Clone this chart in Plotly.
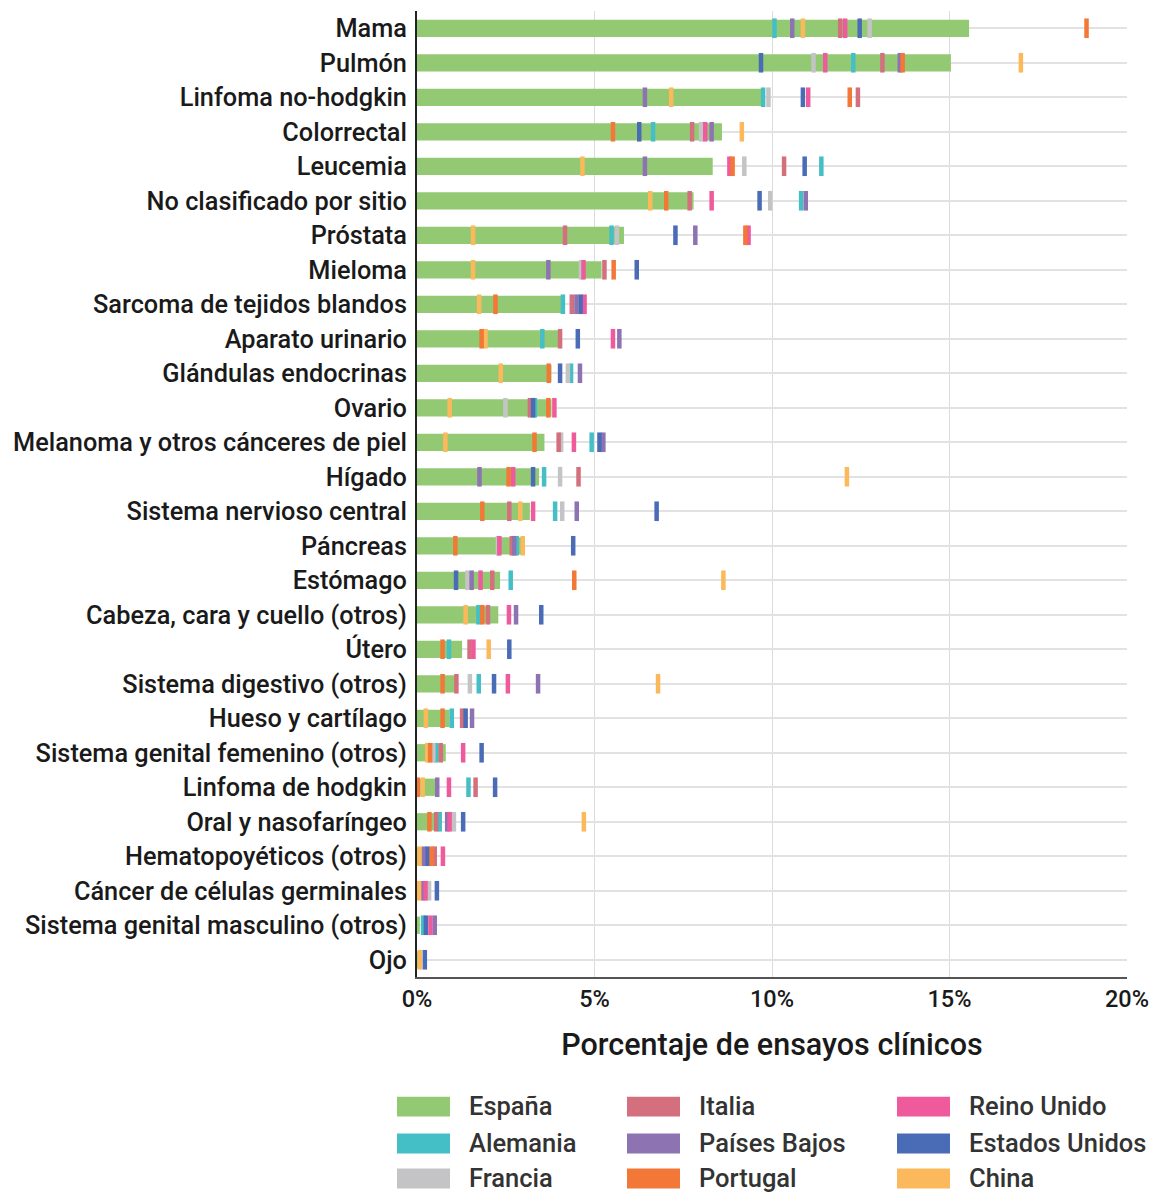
import plotly.graph_objects as go

# Tumour types, top to bottom
categorias = [
    "Mama", "Pulmón", "Linfoma no-hodgkin", "Colorrectal", "Leucemia",
    "No clasificado por sitio", "Próstata", "Mieloma", "Sarcoma de tejidos blandos",
    "Aparato urinario", "Glándulas endocrinas", "Ovario",
    "Melanoma y otros cánceres de piel", "Hígado", "Sistema nervioso central",
    "Páncreas", "Estómago", "Cabeza, cara y cuello (otros)", "Útero",
    "Sistema digestivo (otros)", "Hueso y cartílago",
    "Sistema genital femenino (otros)", "Linfoma de hodgkin",
    "Oral y nasofaríngeo", "Hematopoyéticos (otros)",
    "Cáncer de células germinales", "Sistema genital masculino (otros)", "Ojo",
]

# Share of clinical trials (%) per tumour type and country
espana = [15.55, 15.04, 9.74, 8.59, 8.33, 7.79, 5.83, 5.20, 4.10, 4.06, 3.79, 3.79,
          3.59, 3.44, 3.18, 2.94, 2.34, 2.29, 1.27, 1.08, 0.92, 0.81, 0.59, 0.52,
          0.42, 0.12, 0.08, 0.03]
alemania = [10.07, 12.29, 9.75, 6.65, 11.39, 10.82, 5.48, None, 4.11, 3.53, 4.34, 3.32,
            4.92, 3.58, 3.89, 2.81, 2.64, 1.73, 0.90, 1.74, 0.98, 0.54, 1.45, 0.64,
            None, None, 0.17, None]
francia = [12.75, 11.17, 9.90, 8.00, 9.22, 9.95, 5.63, 4.62, None, None, 4.25, 2.49,
           4.06, 4.03, 4.09, 2.28, 1.42, None, None, 1.49, None, 0.46, None, 1.04,
           None, 0.34, None, None]
italia = [11.92, 13.11, 12.42, 7.75, 10.34, 7.68, 4.17, 5.28, 4.36, 4.03, None, 3.18,
          3.99, 4.55, 2.60, 2.67, 2.12, 2.00, 1.48, 1.11, 1.27, 0.67, 1.65, 0.54,
          0.50, None, None, None]
paises_bajos = [10.57, 13.60, 6.42, 8.30, 6.42, 10.95, 7.84, 3.70, 4.49, 5.70, 4.59, None,
                5.25, 1.76, 4.50, 2.74, 1.54, 2.79, None, 3.41, 1.55, None, 0.57, 0.85,
                0.19, 0.17, 0.50, None]
portugal = [18.86, 13.68, 12.19, 5.52, 8.89, 7.02, 9.25, 5.54, 2.21, 1.82, 3.71, 3.70,
            3.31, 2.58, 1.84, 1.08, 4.43, 1.84, 0.72, 0.72, 0.72, 0.37, 0.02, 0.35,
            0.41, None, None, None]
reino_unido = [12.06, 11.50, 11.02, 8.12, 8.80, 8.30, 9.34, 4.69, 4.72, 5.52, None, 3.87,
               4.42, 2.71, 3.27, 2.32, 1.79, 2.59, 1.59, 2.56, None, 1.30, 0.90, 0.92,
               0.73, 0.24, 0.38, None]
estados_unidos = [12.47, 9.69, 10.87, 6.26, 10.92, 9.65, 7.28, 6.19, 4.61, 4.53, 4.03, 3.27,
                  5.14, 3.27, 6.75, 4.40, 1.10, 3.50, 2.60, 2.17, 1.37, 1.82, 2.20, 1.30,
                  0.30, 0.56, 0.25, 0.22]
china = [10.87, 17.01, 7.16, 9.15, 4.66, 6.57, 1.58, 1.58, 1.75, 1.93, 2.36, 0.92,
         0.80, 12.11, 2.91, 2.98, 8.63, 1.37, 2.02, 6.79, 0.25, 0.29, 0.16, 4.70,
         0.07, 0.06, None, 0.08]

x_ticks = [0, 5, 10, 15, 20]
x_tick_labels = ["0%", "5%", "10%", "15%", "20%"]

colores = {
    "España": "#93C973",
    "Alemania": "#45BFC6",
    "Francia": "#C4C4C6",
    "Italia": "#D4707E",
    "Países Bajos": "#8E73B3",
    "Portugal": "#F37736",
    "Reino Unido": "#EF5A9D",
    "Estados Unidos": "#4A6BB5",
    "China": "#FCB95B",
}

otros_paises = [
    ("Alemania", alemania), ("Francia", francia), ("Italia", italia),
    ("Países Bajos", paises_bajos), ("Reino Unido", reino_unido),
    ("Estados Unidos", estados_unidos), ("China", china), ("Portugal", portugal),
]

FONT = "Roboto"
WEIGHT = 500
W, H = 1153, 1193
L, R, T, B = 417, 1127, 10.7, 977.3

fig = go.Figure()

fig.add_trace(go.Bar(
    y=categorias, x=espana, orientation="h", name="España",
    marker=dict(color=colores["España"], line=dict(width=0)),
    width=0.5, showlegend=False,
))

for nombre, valores in otros_paises:
    fig.add_trace(go.Scatter(
        y=categorias, x=valores, mode="markers", name=nombre,
        marker=dict(symbol="line-ns", size=14,
                    line=dict(width=4.5, color=colores[nombre])),
        showlegend=False, cliponaxis=False,
    ))

# Legend drawn as swatches + labels in three columns
def px_x(p):
    return (p - L) / (R - L)

def px_y(p):
    return (B - p) / (B - T)

columnas = [
    (397, ["España", "Alemania", "Francia"]),
    (627, ["Italia", "Países Bajos", "Portugal"]),
    (897, ["Reino Unido", "Estados Unidos", "China"]),
]
filas = [1106, 1143, 1178]
shapes = []
annotations = []
for x0, nombres in columnas:
    for yc, nombre in zip(filas, nombres):
        shapes.append(dict(
            type="rect", xref="paper", yref="paper",
            x0=px_x(x0), x1=px_x(x0 + 53), y0=px_y(yc + 11), y1=px_y(yc - 9),
            fillcolor=colores[nombre], line=dict(width=0), layer="above",
        ))
        annotations.append(dict(
            xref="paper", yref="paper", x=px_x(x0 + 70), y=px_y(yc),
            text=nombre, showarrow=False, xanchor="left", yanchor="middle",
            font=dict(family=FONT, size=25.5, color="#333333", weight=WEIGHT),
        ))

fig.update_layout(
    width=W, height=H,
    margin=dict(l=L, r=W - R, t=T, b=H - B, pad=0, autoexpand=False),
    paper_bgcolor="white", plot_bgcolor="white",
    shapes=shapes, annotations=annotations,
    font=dict(family=FONT, color="#1a1a1a", weight=WEIGHT),
)

fig.update_xaxes(
    range=[0, 20], tickvals=x_ticks, ticktext=x_tick_labels,
    showgrid=True, gridcolor="#dcdcdc", gridwidth=1,
    zeroline=False, showline=True, linecolor="#555555", linewidth=1.5,
    ticks="", automargin=False,
    tickfont=dict(family=FONT, size=23.5, color="#1a1a1a", weight=WEIGHT),
    title=dict(text="Porcentaje de ensayos clínicos", standoff=22,
               font=dict(family=FONT, size=30.5, color="#1a1a1a", weight=WEIGHT)),
    fixedrange=True,
)

fig.update_yaxes(
    categoryorder="array", categoryarray=categorias,
    range=[len(categorias) - 0.5, -0.5], automargin=False,
    showgrid=True, gridcolor="#e2e2e2", gridwidth=1.5,
    showline=True, linecolor="#222222", linewidth=2,
    ticks="outside", ticklen=3, tickcolor="rgba(0,0,0,0)",
    tickfont=dict(family=FONT, size=25.3, color="#1a1a1a", weight=WEIGHT),
    fixedrange=True,
)

fig.write_html("out.html")
